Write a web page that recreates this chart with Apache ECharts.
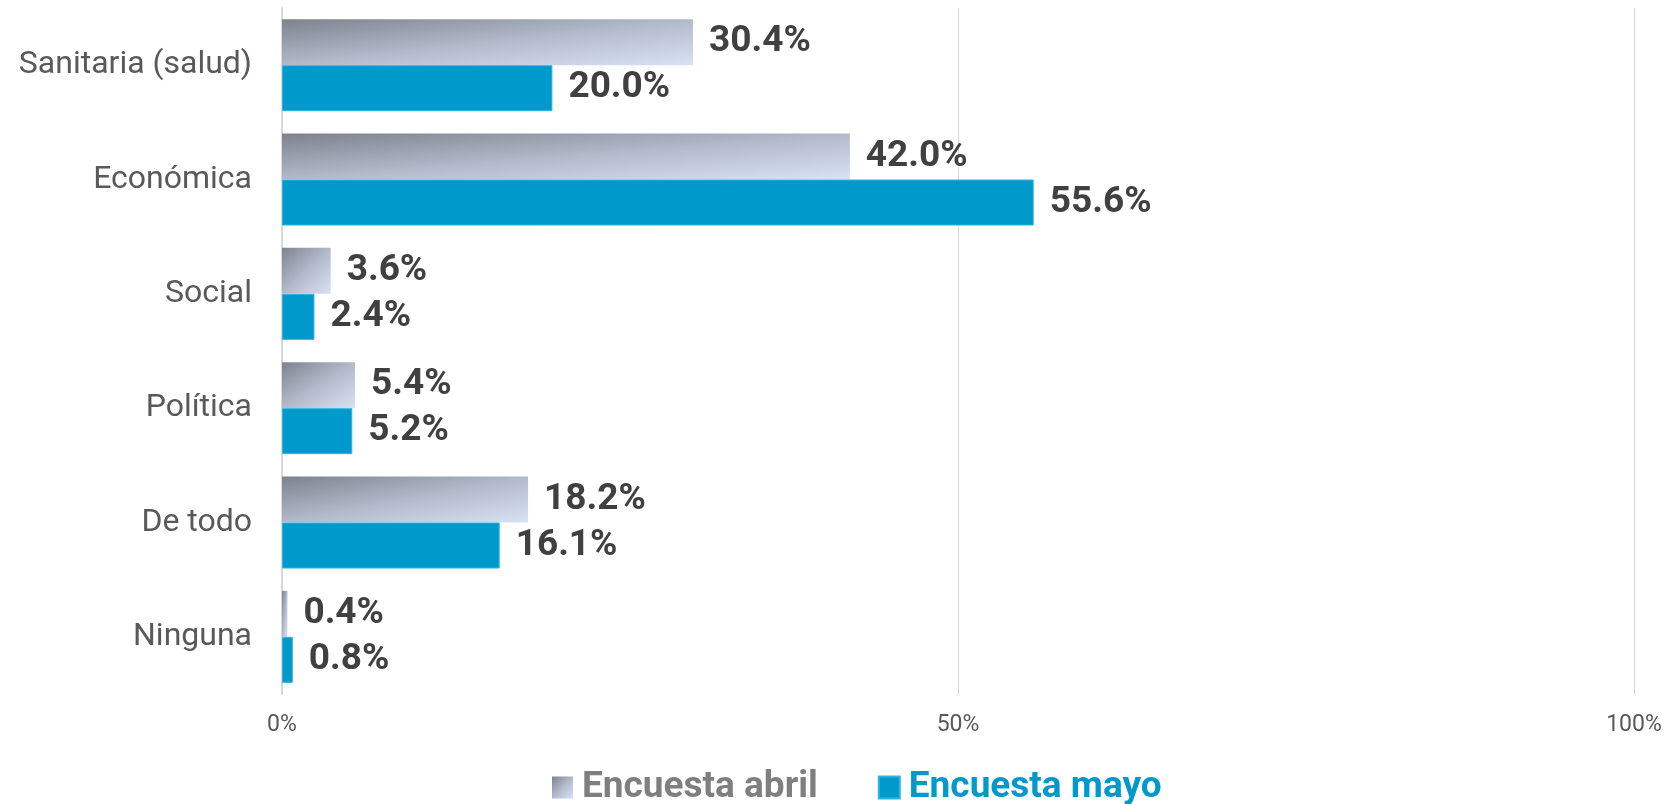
<!DOCTYPE html>
<html>
<head>
<meta charset="utf-8">
<script src="https://cdn.jsdelivr.net/npm/echarts@6/dist/echarts.min.js"></script>
<style>
html,body{margin:0;padding:0;background:#fff;}
#chart{width:1675px;height:804px;}
</style>
</head>
<body>
<div id="chart"></div>
<script>
const categories = ['Sanitaria (salud)', 'Económica', 'Social', 'Política', 'De todo', 'Ninguna'];
const seriesNames = ['Encuesta abril', 'Encuesta mayo'];
const abril = [30.4, 42.0, 3.6, 5.4, 18.2, 0.4];
const mayo = [20.0, 55.6, 2.4, 5.2, 16.1, 0.8];
const xTicks = [0, 50, 100];

const gStops = [
  {offset: 0, color: '#7e828d'},
  {offset: 0.5, color: '#b1b9ca'},
  {offset: 1, color: '#d9e2f3'}
];
// gradient whose isolines run along the anti-diagonal of the bar box (scaled-with-shape look)
function shapeGradient(w, h) {
  const d = w * w + h * h || 1;
  return new echarts.graphic.LinearGradient(0, 0, 2 * h * h / d, 2 * w * w / d, gStops);
}
const blue = '#0099cc';

const chart = echarts.init(document.getElementById('chart'));
const labelStyle = {
  show: true, position: 'right', distance: 16,
  formatter: p => p.value.toFixed(1) + '%',
  fontFamily: 'Roboto', fontWeight: 'bold', fontSize: 37, color: '#404040'
};
chart.setOption({
  animation: false,
  grid: {left: 282, right: 41, top: 8, height: 686, containLabel: false},
  legend: {
    top: 764, left: 547, itemWidth: 21, itemHeight: 22, itemGap: 60,
    icon: 'rect',
    textStyle: {fontFamily: 'Roboto', fontWeight: 'bold', fontSize: 37, padding: [0, 0, 0, 4]},
    data: [
      {name: seriesNames[0], textStyle: {color: '#7f7f7f'},
       itemStyle: {color: shapeGradient(21, 22)}},
      {name: seriesNames[1], textStyle: {color: blue}}
    ]
  },
  xAxis: {
    type: 'value', min: xTicks[0], max: xTicks[xTicks.length - 1], interval: 50,
    axisLine: {show: false}, axisTick: {show: false},
    splitLine: {lineStyle: {color: '#d9d9d9', width: 1}},
    axisLabel: {formatter: '{value}%', fontFamily: 'Roboto', fontSize: 23, color: '#595959', margin: 20}
  },
  yAxis: {
    type: 'category', data: categories, inverse: true,
    axisLine: {lineStyle: {color: '#d9d9d9', width: 2}},
    axisTick: {show: false},
    axisLabel: {fontFamily: 'Roboto', fontSize: 32, color: '#595959', margin: 30}
  },
  series: [
    {name: seriesNames[0], type: 'bar', data: abril, barGap: '0%', barCategoryGap: '19.5%',
     itemStyle: {color: '#a6aebf'}, label: labelStyle},
    {name: seriesNames[1], type: 'bar', data: mayo, barGap: '0%', barCategoryGap: '19.5%',
     itemStyle: {color: blue, borderColor: '#2fb4e2', borderWidth: 1}, label: labelStyle}
  ]
});

// apply per-bar gradient using the bar sizes from the laid-out chart
const seriesData = chart.getModel().getSeriesByIndex(0).getData();
const styled = abril.map((v, i) => {
  const lay = seriesData.getItemLayout(i) || {width: 10, height: 46};
  return {value: v, itemStyle: {color: shapeGradient(Math.abs(lay.width), Math.abs(lay.height))}};
});
chart.setOption({series: [{data: styled}, {}]});
</script>
</body>
</html>
